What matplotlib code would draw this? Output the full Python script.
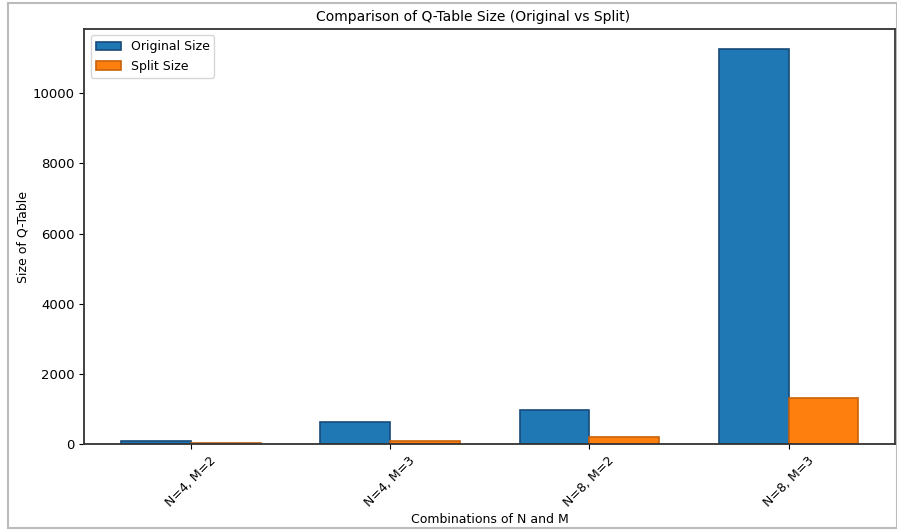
import matplotlib
matplotlib.use("Agg")
import matplotlib.pyplot as plt
import numpy as np
from matplotlib.patches import Rectangle

categories = ["N=4, M=2", "N=4, M=3", "N=8, M=2", "N=8, M=3"]
original_size = [100, 640, 960, 11270]
split_size = [35, 75, 210, 1310]

fig = plt.figure(figsize=(8.97, 5.31), dpi=100)
ax = fig.add_axes([0.094, 0.1638, 0.904, 0.7815])

x = np.arange(len(categories))
w = 0.35
ax.bar(x - w / 2, original_size, w, label="Original Size", color="#1f77b4",
       edgecolor="#174a7a", linewidth=1.2)
ax.bar(x + w / 2, split_size, w, label="Split Size", color="#ff7f0e",
       edgecolor="#c8620a", linewidth=1.2)

ax.set_xticks(x)
ax.set_xticklabels(categories, rotation=45, fontsize=9)
ax.tick_params(axis="y", labelsize=9.5)
ax.set_title("Comparison of Q-Table Size (Original vs Split)", fontsize=10, x=0.48)
ax.set_xlabel("Combinations of N and M", fontsize=9, labelpad=3)
ax.set_ylabel("Size of Q-Table", fontsize=9, labelpad=2)
ax.legend(loc="upper left", fontsize=9)
for s in ax.spines.values():
    s.set_linewidth(1.3)
    s.set_color("#333333")

fig.patches.append(Rectangle((8 / 897, 3 / 531), 1 - 8 / 897, 1 - 6 / 531,
                             transform=fig.transFigure, fill=False,
                             edgecolor="#bbbbbb", linewidth=1.5))

fig.savefig("out.png", dpi=100)
